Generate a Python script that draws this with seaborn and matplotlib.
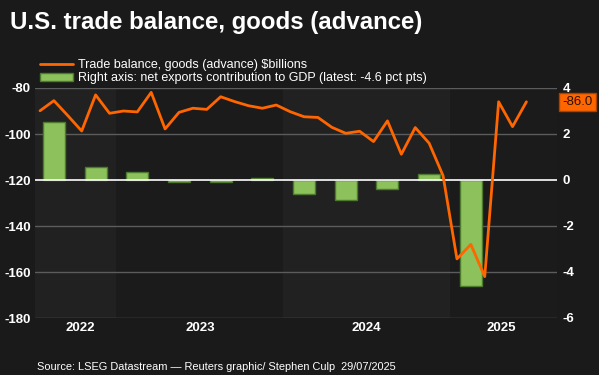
import numpy as np
import pandas as pd
import matplotlib
matplotlib.use("Agg")
import matplotlib.pyplot as plt
import seaborn as sns
from matplotlib.lines import Line2D
from matplotlib.patches import Patch

# monthly goods trade balance, $bn, Jul 2022 .. Jun 2025
months = pd.date_range("2022-07-01", "2025-06-01", freq="MS").strftime("%Y-%m").tolist()
trade_balance = [-89.9, -85.5, -92.0, -98.7, -83.0, -91.0,
                 -90.0, -90.4, -81.9, -97.8, -90.6, -88.8,
                 -89.3, -83.8, -85.9, -87.7, -88.8, -87.4,
                 -90.3, -92.5, -92.8, -97.1, -99.7, -98.8,
                 -103.3, -94.3, -108.8, -97.2, -104.0, -118.1,
                 -154.3, -148.0, -162.0, -86.0, -96.8, -86.0]

# quarterly net exports contribution to GDP, pct pts, Q3 2022 .. Q1 2025
quarters = ["2022Q3", "2022Q4", "2023Q1", "2023Q2", "2023Q3", "2023Q4",
            "2024Q1", "2024Q2", "2024Q3", "2024Q4", "2025Q1"]
net_exports = [2.5, 0.55, 0.33, -0.1, -0.08, 0.07, -0.62, -0.87, -0.4, 0.25, -4.6]

years = ["2022", "2023", "2024", "2025"]
year_starts = [0, 6, 18, 30]  # month index where each year starts

bg = "#1a1a1a"
orange = "#ff6600"
green = "#8cc15b"

sns.set_style("dark")
plt.rcParams["font.family"] = ["Liberation Sans", "DejaVu Sans"]
plt.rcParams["axes.unicode_minus"] = False

fig = plt.figure(figsize=(5.99, 3.75), dpi=100, facecolor=bg)
ax = fig.add_axes([35 / 599, 1 - 318 / 375, 522 / 599, 230 / 375])
ax.set_facecolor(bg)

xmin, xmax = 0.14, 37.7
# alternating year bands
band_cols = ["#212121", "#1b1b1b", "#212121", "#1b1b1b"]
edges = year_starts + [xmax]
for i in range(len(years)):
    ax.axvspan(max(edges[i], xmin), edges[i + 1], color=band_cols[i], lw=0, zorder=0)

# bars (right axis scale) on the main axes
df_q = pd.DataFrame({"x": np.arange(len(quarters)) * 3 + 1.5, "v": net_exports})
sns.barplot(data=df_q, x="x", y="v", native_scale=True, width=0.53,
            color=green, edgecolor="#4d7a2e", linewidth=1, saturation=1, ax=ax, zorder=2)
ax.set_ylim(-6, 4)
ax.set_yticks([-6, -4, -2, 0, 2, 4])
ax.set_xlim(xmin, xmax)
for yv in [-6, -4, -2, 2, 4]:
    ax.axhline(yv, color="#5c5c5c", lw=1, zorder=1)
ax.axhline(0, color="white", lw=1.2, zorder=3)
ax.grid(False)
for s in ax.spines.values():
    s.set_visible(False)

# line (left axis scale) on the twin axes
ax2 = ax.twinx()
ax2.yaxis.tick_left()
ax.yaxis.tick_right()
df_m = pd.DataFrame({"x": np.arange(len(months)) + 0.5, "v": trade_balance})
sns.lineplot(data=df_m, x="x", y="v", color=orange, lw=2, ax=ax2)
ax2.set_ylim(-180, -80)
ax2.set_yticks([-180, -160, -140, -120, -100, -80])
ax2.grid(False)
for s in ax2.spines.values():
    s.set_visible(False)

ax.set_xticks([3.4, 12, 24, 33.7])
ax.set_xticklabels(years)
for a in (ax, ax2):
    a.set_xlabel("")
    a.set_ylabel("")
    a.tick_params(length=0, colors="white", labelsize=9.5)
    for t in a.get_xticklabels() + a.get_yticklabels():
        t.set_fontweight("bold")
ax.tick_params(axis="y", pad=4, labelright=True, labelleft=False)
ax2.tick_params(axis="y", pad=3, labelleft=True, labelright=False)
ax.tick_params(axis="x", pad=3)

# latest value tag
ax2.annotate(f"{trade_balance[-1]:.1f}", xy=(1, trade_balance[-1]),
             xycoords=("axes fraction", "data"), xytext=(4, 0), textcoords="offset points",
             ha="left", va="center", fontsize=9.5, color="#2a1000",
             bbox=dict(boxstyle="square,pad=0.25", fc=orange, ec="#a84400", lw=1))

handles = [Line2D([], [], color=orange, lw=2),
           Patch(facecolor=green, edgecolor="#4d7a2e")]
labels = ["Trade balance, goods (advance) $billions",
          "Right axis: net exports contribution to GDP (latest: -4.6 pct pts)"]
fig.legend(handles, labels, loc="upper left", bbox_to_anchor=(34 / 599, 1 - 53 / 375),
           frameon=False, fontsize=9, labelcolor="white", handlelength=2.6,
           handletextpad=0.4, labelspacing=0.08, borderpad=0)

fig.text(10 / 599, 1 - 29 / 375, "U.S. trade balance, goods (advance)",
         color="white", fontsize=17.3, fontweight="bold", va="baseline")
fig.text(37 / 599, 1 - 370 / 375,
         "Source: LSEG Datastream \u2014 Reuters graphic/ Stephen Culp  29/07/2025",
         color="white", fontsize=7.9, va="baseline")

fig.savefig("out.png", dpi=100, facecolor=bg)
